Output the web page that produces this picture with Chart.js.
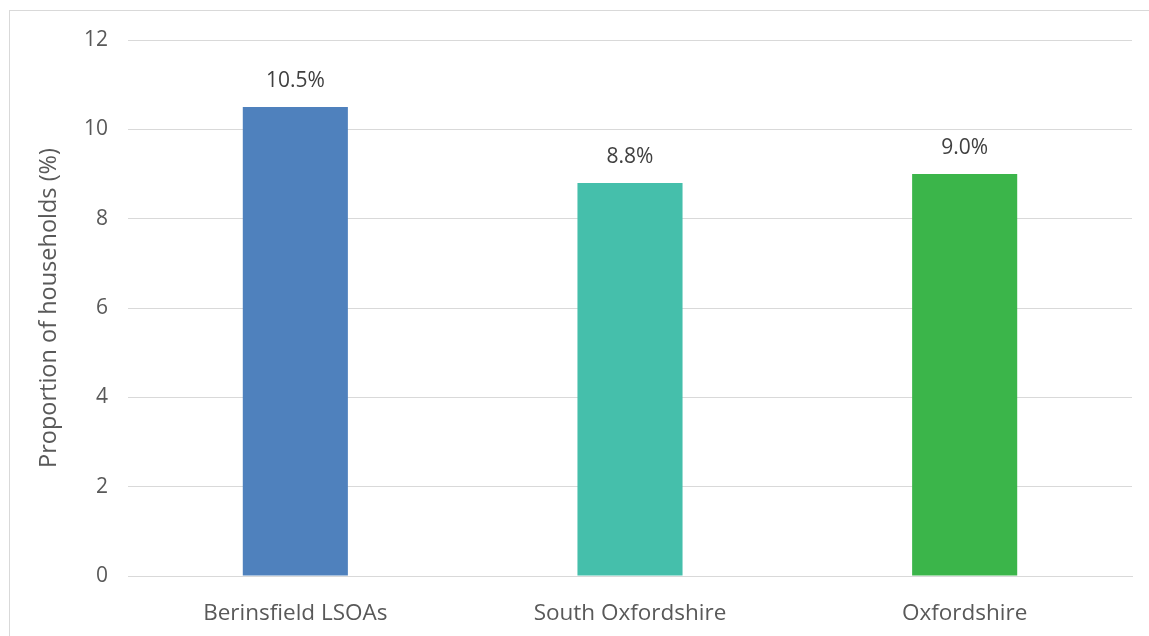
<!DOCTYPE html>
<html>
<head>
<meta charset="utf-8">
<script src="https://cdn.jsdelivr.net/npm/chart.js@4.4.1/dist/chart.umd.min.js"></script>
<style>
  html, body { margin: 0; padding: 0; background: #fff; overflow: hidden; }
  #wrap { position: relative; width: 1149px; height: 636px; }
  #frame {
    position: absolute; left: 9px; top: 10px; width: 1200px; height: 700px;
    border-left: 1px solid #d9d9d9; border-top: 1px solid #d9d9d9;
  }
  canvas { position: absolute; left: 0; top: 0; }
</style>
</head>
<body>
<div id="wrap">
  <div id="frame"></div>
  <canvas id="chart" width="1149" height="636"></canvas>
</div>
<script>
// Chart data
const areas = ['Berinsfield LSOAs', 'South Oxfordshire', 'Oxfordshire'];
const households = [10.5, 8.8, 9.0];
const barColours = ['#4f81bd', '#45bfab', '#3bb54a'];
const yTicks = [0, 2, 4, 6, 8, 10, 12];

// Draws the "10.5%" style labels above each bar
const valueLabels = {
    id: 'valueLabels',
    afterDatasetsDraw(chart) {
        const ctx = chart.ctx;
        const meta = chart.getDatasetMeta(0);
        ctx.save();
        ctx.font = '21px "Open Sans", sans-serif';
        ctx.fillStyle = '#404040';
        ctx.textAlign = 'center';
        ctx.textBaseline = 'middle';
        meta.data.forEach((bar, i) => {
            ctx.fillText(households[i].toFixed(1) + '%', bar.x, bar.y - 26);
        });
        ctx.restore();
    }
};

function initializeChart() {
    const ctx = document.getElementById('chart').getContext('2d');
    new Chart(ctx, {
        type: 'bar',
        data: {
            labels: areas,
            datasets: [{
                data: households,
                backgroundColor: barColours,
                borderWidth: 0,
                categoryPercentage: 1,
                barPercentage: 0.314
            }]
        },
        options: {
            responsive: false,
            animation: false,
            layout: { padding: { left: 30, top: 40, right: 17, bottom: 0 } },
            plugins: {
                legend: { display: false },
                tooltip: { enabled: false }
            },
            scales: {
                x: {
                    grid: { display: false },
                    border: { display: true, color: '#d9d9d9' },
                    ticks: {
                        color: '#595959',
                        font: { family: '"Open Sans", sans-serif', size: 22.5 },
                        padding: 16
                    },
                    afterFit(scale) { scale.height = 60; }
                },
                y: {
                    min: 0,
                    max: 12,
                    afterBuildTicks(scale) {
                        scale.ticks = yTicks.map(v => ({ value: v }));
                    },
                    grid: { color: '#d9d9d9', drawTicks: false },
                    border: { display: false },
                    ticks: {
                        color: '#595959',
                        font: { family: '"Open Sans", sans-serif', size: 21 },
                        padding: 20
                    },
                    title: {
                        display: true,
                        text: 'Proportion of households (%)',
                        color: '#595959',
                        font: { family: '"Open Sans", sans-serif', size: 23.5 },
                        padding: { top: 5, bottom: 0 }
                    },
                    afterFit(scale) { scale.width = 98; }
                }
            }
        },
        plugins: [valueLabels]
    });
}

initializeChart();
</script>
</body>
</html>
